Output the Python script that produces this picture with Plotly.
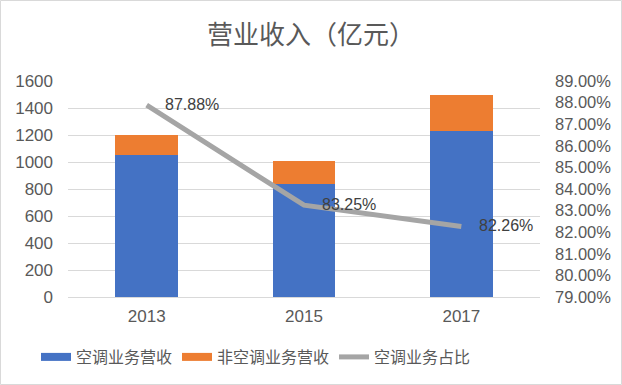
import plotly.graph_objects as go

years = ["2013", "2015", "2017"]
ac_revenue = [1052, 837, 1230]
non_ac_revenue = [148, 170, 266]
ac_share = [87.88, 83.25, 82.26]
share_labels = ["87.88%", "83.25%", "82.26%"]

font_family = "Liberation Sans, Arial, Noto Sans CJK SC, sans-serif"
cjk_family = "Noto Sans CJK SC, sans-serif"
tick_color = "#595959"
blue, orange, gray = "#4472C4", "#ED7D31", "#A5A5A5"

fig = go.Figure()
fig.add_trace(go.Bar(x=years, y=ac_revenue, name="空调业务营收", showlegend=False,
                     marker=dict(color=blue, line=dict(width=0)), width=0.4))
fig.add_trace(go.Bar(x=years, y=non_ac_revenue, name="非空调业务营收", showlegend=False,
                     marker=dict(color=orange, line=dict(width=0)), width=0.4))
fig.add_trace(go.Scatter(x=years, y=ac_share, name="空调业务占比", yaxis="y2",
                         mode="lines", line=dict(color=gray, width=5), showlegend=False))

# legend entries (wide swatches like the original)
fig.add_trace(go.Scatter(x=[years[0]], y=[None], name="空调业务营收", mode="lines",
                         line=dict(color=blue, width=8)))
fig.add_trace(go.Scatter(x=[years[0]], y=[None], name="非空调业务营收", mode="lines",
                         line=dict(color=orange, width=8)))
fig.add_trace(go.Scatter(x=[years[0]], y=[None], name="空调业务占比", mode="lines",
                         line=dict(color=gray, width=5)))

for i, (v, lab) in enumerate(zip(ac_share, share_labels)):
    fig.add_annotation(x=i, y=v, xref="x", yref="y2", text=lab, showarrow=False,
                       xanchor="left", yanchor="middle", xshift=16, yshift=1,
                       font=dict(size=16, color="#404040", family=font_family))

L, R, T, B = 68, 82, 81, 88
W, H = 622, 385
pw, ph = W - L - R, H - T - B

fig.update_layout(
    width=W, height=H,
    barmode="stack",
    margin=dict(l=L, r=R, t=T, b=B, autoexpand=False),
    paper_bgcolor="white", plot_bgcolor="white",
    font=dict(family=font_family, color=tick_color, size=16),
    title=dict(text="营业收入（亿元）", x=0.5, xanchor="center", y=1 - 35 / H, yanchor="middle",
               font=dict(size=26, color="#595959", family=cjk_family)),
    xaxis=dict(type="category", categoryorder="array", categoryarray=years, range=[-0.5, 2.5],
               showgrid=False, showline=True, linecolor="#D9D9D9", linewidth=1,
               ticks="", tickfont=dict(size=17, color=tick_color), ticklabelstandoff=4),
    yaxis=dict(range=[0, 1600], dtick=200, showgrid=True, gridcolor="#D9D9D9", gridwidth=1,
               zeroline=False, showline=False, tickfont=dict(size=17, color=tick_color),
               ticklabelstandoff=14),
    yaxis2=dict(range=[79, 89], dtick=1, overlaying="y", side="right", showgrid=False,
                zeroline=False, ticksuffix="%", tickformat=".2f",
                tickfont=dict(size=16.5, color=tick_color), ticklabelstandoff=14),
    legend=dict(orientation="h", x=(36 - L) / pw, xanchor="left", y=-(357 - T - ph) / ph,
                yanchor="middle",
                font=dict(size=16, color=tick_color, family=cjk_family),
                traceorder="normal", itemwidth=30),
    showlegend=True,
)

fig.add_shape(type="rect", xref="paper", yref="paper",
              x0=-(L - 0.5) / pw, x1=1 + (R - 0.5) / pw,
              y0=-(B - 0.5) / ph, y1=1 + (T - 0.5) / ph,
              line=dict(color="#D9D9D9", width=1), layer="below")

fig.write_html("out.html", config={"displayModeBar": False},
               post_script="document.body.style.margin='0';")
